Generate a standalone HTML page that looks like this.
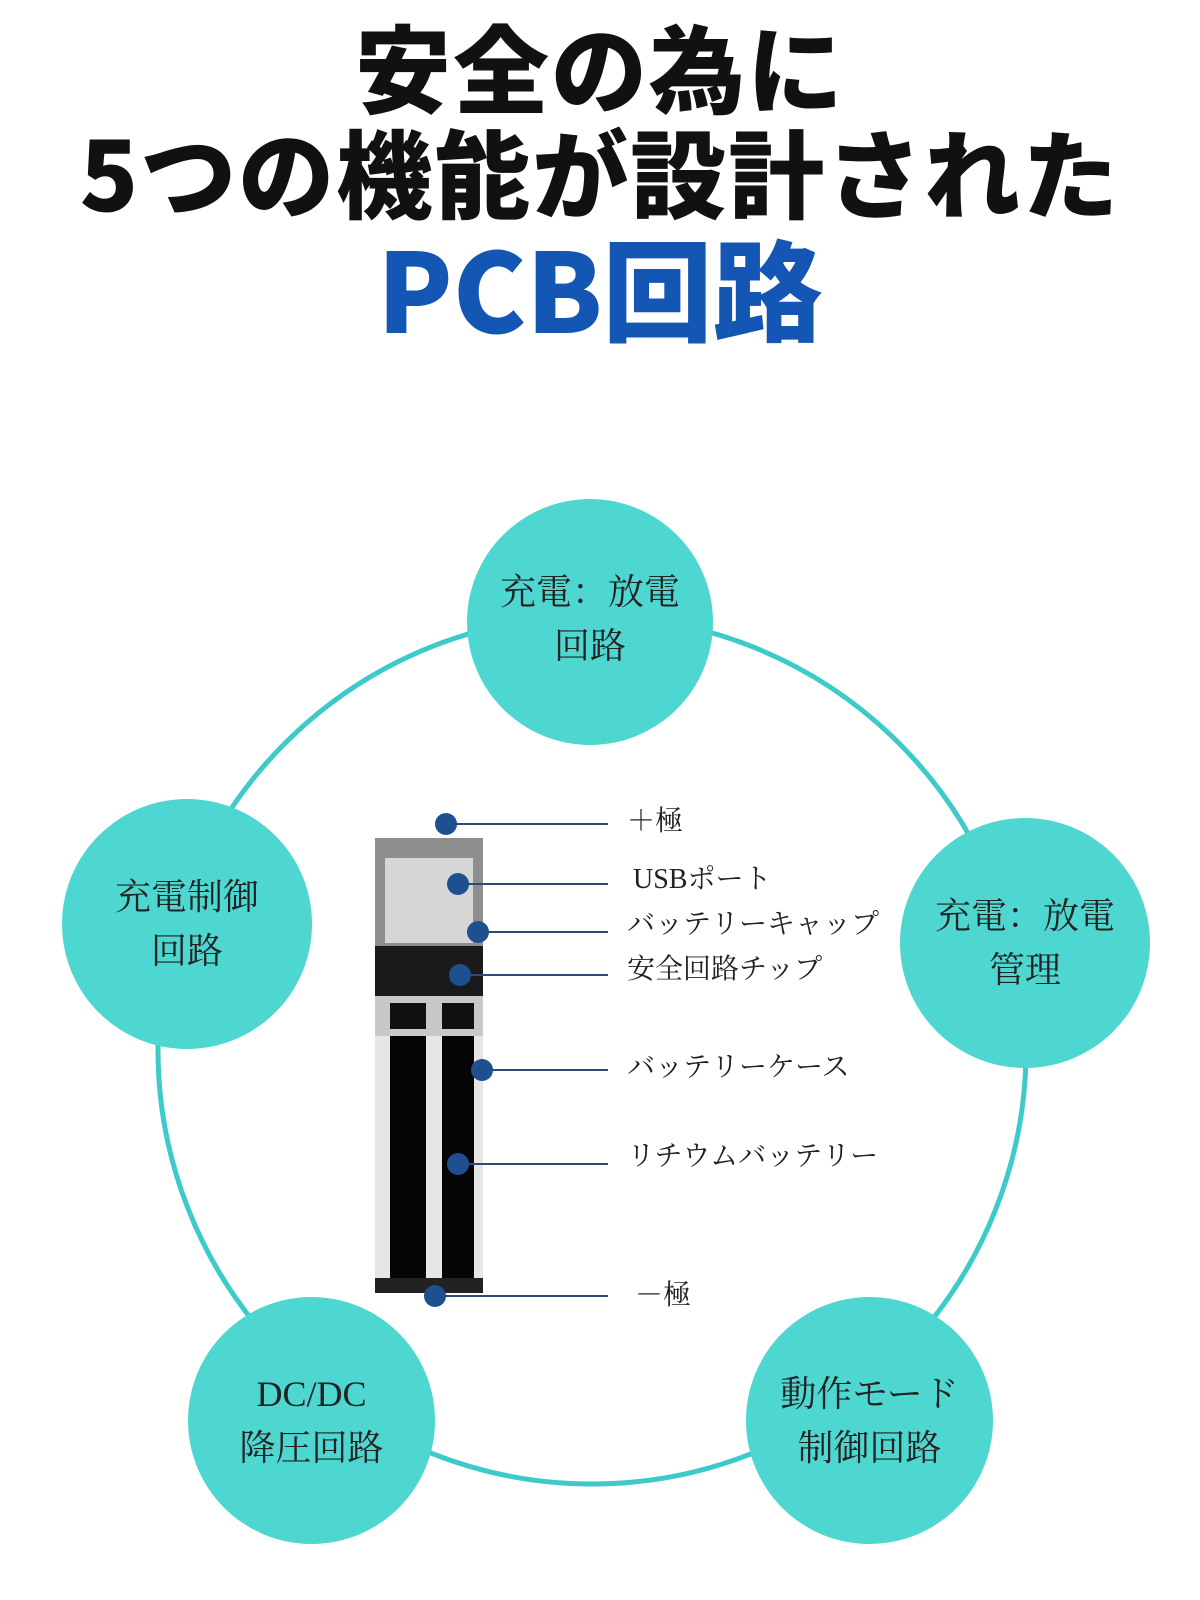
<!DOCTYPE html>
<html><head><meta charset="utf-8"><style>
body{margin:0;width:1200px;height:1600px;background:#fff;position:relative;overflow:hidden;font-family:"Liberation Sans","Noto Sans CJK JP",sans-serif}
.t{position:absolute;left:0;width:1200px;text-align:center;font-weight:900;white-space:nowrap;font-family:"Noto Sans CJK JP",sans-serif}
.c{position:absolute;border-radius:50%;background:#4ed6d1;display:flex;align-items:center;justify-content:center;text-align:center;font-family:"Liberation Serif","Noto Serif CJK SC",serif;color:#222;font-size:36px;line-height:54px}
.l{position:absolute;font-family:"Liberation Serif","Noto Serif CJK SC",serif;font-size:28px;line-height:34px;color:#222;white-space:nowrap}
</style></head><body>
<div class="t" style="top:8px;font-size:96px;line-height:114px;color:#111;letter-spacing:2px">安全の為に</div>
<div class="t" style="top:113px;font-size:96px;line-height:114px;color:#111;letter-spacing:2px">5つの機能が設計された</div>
<div class="t" style="top:220px;font-size:110px;line-height:130px;color:#1356b4">PCB回路</div>
<svg style="position:absolute;left:0;top:0" width="1200" height="1600">
<circle cx="592" cy="1050" r="434" fill="none" stroke="#3ccaca" stroke-width="5"/>
<rect x="375" y="838" width="108" height="110" fill="#8e8e8e"/>
<rect x="385" y="858" width="88" height="85" fill="#d6d6d6"/>
<rect x="375" y="946" width="108" height="52" fill="#1a1a1a"/>
<rect x="375" y="996" width="108" height="297" fill="#e6e6e6"/>
<rect x="390" y="996" width="36" height="297" fill="#050505"/>
<rect x="442" y="996" width="32" height="297" fill="#050505"/>
<rect x="375" y="996" width="108" height="40" fill="#c8c8c8"/>
<rect x="390" y="1003" width="36" height="26" fill="#111"/><rect x="442" y="1003" width="32" height="26" fill="#111"/>
<rect x="375" y="1278" width="108" height="15" fill="#222"/>
<g stroke="#2d4a7a" stroke-width="2">
<line x1="446" y1="824" x2="608" y2="824"/><line x1="458" y1="884" x2="608" y2="884"/>
<line x1="478" y1="932" x2="608" y2="932"/><line x1="460" y1="975" x2="608" y2="975"/>
<line x1="482" y1="1070" x2="608" y2="1070"/><line x1="458" y1="1164" x2="608" y2="1164"/>
<line x1="435" y1="1296" x2="608" y2="1296"/></g>
<g fill="#1e4f8f">
<circle cx="446" cy="824" r="11"/><circle cx="458" cy="884" r="11"/><circle cx="478" cy="932" r="11"/>
<circle cx="460" cy="975" r="11"/><circle cx="482" cy="1070" r="11"/><circle cx="458" cy="1164" r="11"/><circle cx="435" cy="1296" r="11"/></g>
</svg>
<div class="c" style="left:467px;top:499px;width:246px;height:246px;padding-bottom:6px;box-sizing:border-box">充電：放電<br>回路</div>
<div class="c" style="left:62px;top:799px;width:250px;height:250px">充電制御<br>回路</div>
<div class="c" style="left:900px;top:818px;width:250px;height:250px">充電：放電<br>管理</div>
<div class="c" style="left:188px;top:1297px;width:247px;height:247px">DC/DC<br>降圧回路</div>
<div class="c" style="left:746px;top:1297px;width:247px;height:247px">動作モード<br>制御回路</div>
<div class="l" style="left:627px;top:805px">＋極</div>
<div class="l" style="left:633px;top:863px">USBポート</div>
<div class="l" style="left:627px;top:908px">バッテリーキャップ</div>
<div class="l" style="left:627px;top:953px">安全回路チップ</div>
<div class="l" style="left:627px;top:1051px">バッテリーケース</div>
<div class="l" style="left:627px;top:1140px">リチウムバッテリー</div>
<div class="l" style="left:635px;top:1279px">－極</div>
</body></html>
